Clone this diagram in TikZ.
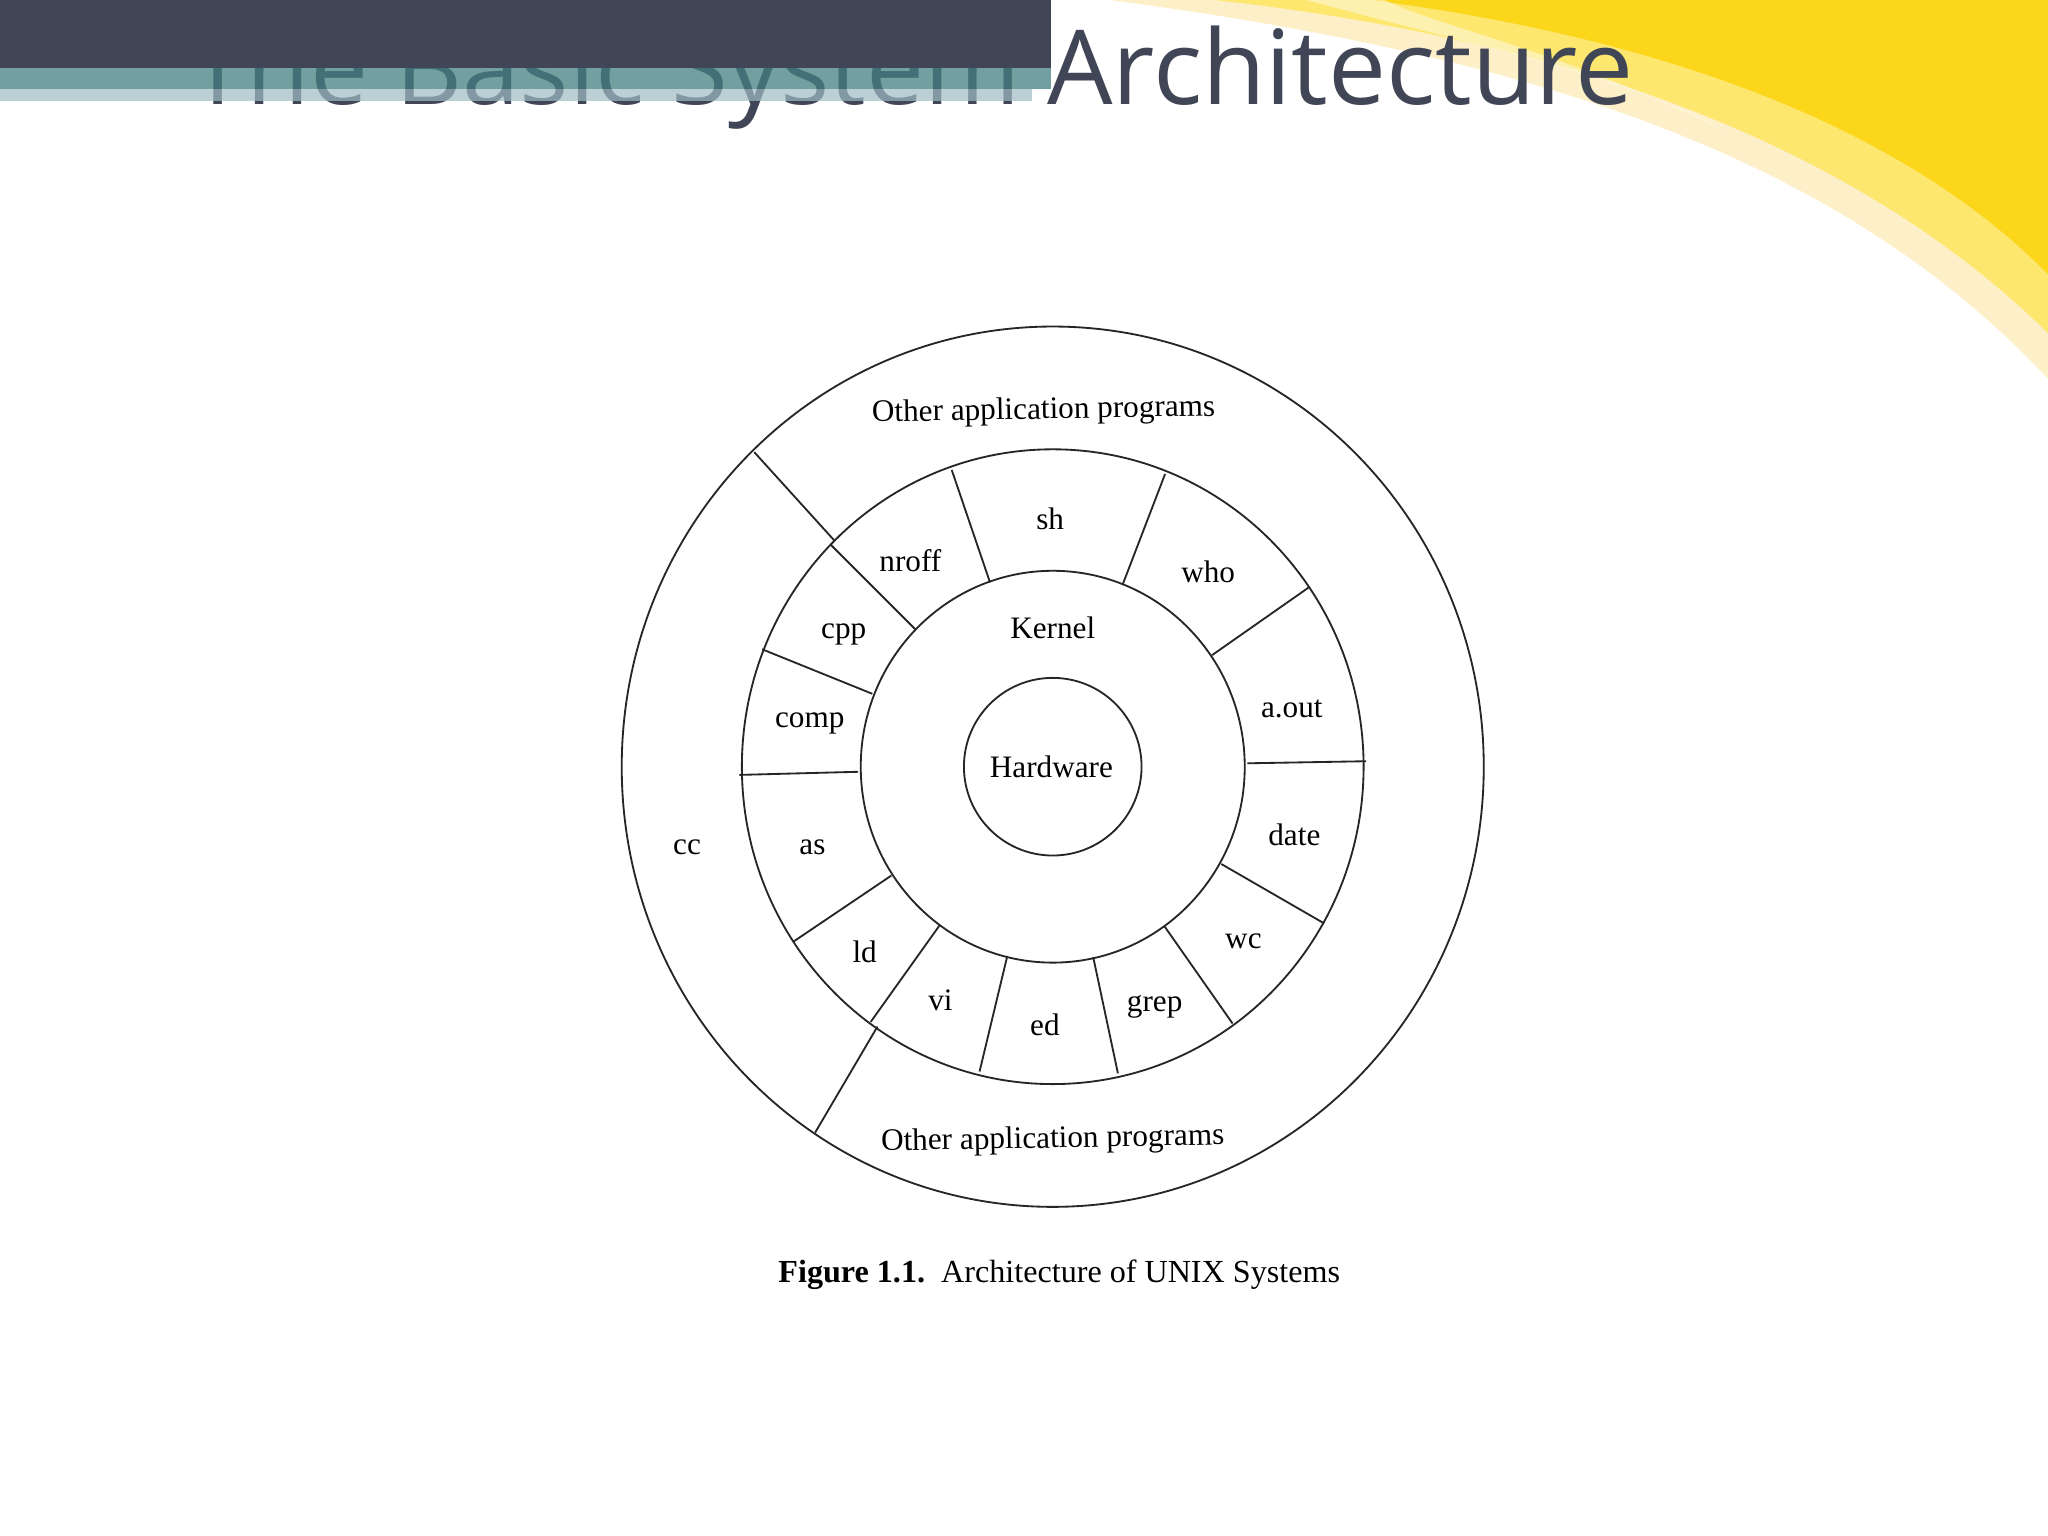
\documentclass[tikz,border=0pt]{standalone}
\usepackage{fontspec}
\setmainfont{Liberation Serif}
\newfontfamily\titlefont{Open Sans}
\begin{document}
\begin{tikzpicture}[x=0.05cm,y=-0.05cm,
  lbl/.style={font=\fontsize{34}{38}\selectfont, inner sep=0pt},
  ring/.style={line width=2pt, draw=black!85}]
\useasboundingbox (0,0) rectangle (1568,1176);
\fill[white] (0,0) rectangle (1568,1176);
% yellow swoosh
\begin{scope}
\clip (0,0) rectangle (1568,1176);
\fill[yellow!50!orange!60!white, opacity=0.35] (850,0) .. controls (1150,40) and (1400,110) .. (1568,290) -- (1568,0) -- cycle;
\fill[yellow!80!orange, opacity=0.45] (930,0) .. controls (1200,30) and (1420,110) .. (1568,255) -- (1568,0) -- cycle;
\fill[yellow!70!orange, opacity=0.8] (1050,0) .. controls (1280,30) and (1460,100) .. (1568,210) -- (1568,0) -- cycle;
\fill[white, opacity=0.45] (1000,0) .. controls (1150,40) and (1250,60) .. (1320,100) .. controls (1200,40) and (1100,20) .. (1060,0) -- cycle;
\end{scope}
% title
\node[anchor=base west, inner sep=0pt, text={rgb,255:red,65;green,70;blue,86}] (title) at (145,80)
  {\resizebox{55.25cm}{!}{\titlefont The Basic System Architecture}};
\fill[fill={rgb,255:red,65;green,70;blue,86}] (0,0) rectangle (805,52);
\fill[fill={rgb,255:red,69;green,127;blue,130}, opacity=0.75] (0,52) rectangle (805,68);
\fill[fill={rgb,255:red,159;green,188;blue,196}, opacity=0.7] (0,68) rectangle (790,77);
% diagram
\begin{scope}[shift={(806,587)}, yscale=-1]
  \draw[ring] (0,0) ellipse (330 and 337);
  \draw[ring] (0,0) ellipse (238 and 243);
  \draw[ring] (0,0) ellipse (147 and 150);
  \draw[ring] (0,0) circle (68);
  \foreach \a in {108.8,69,35,1,-30,-55,-78,-103.5,-125.5,-146,-178.5,158,135}
    \draw[ring] (\a:149) -- (\a:240);
  \draw[ring] (134:240) -- (133.5:332);
  \draw[ring] (-124:240) -- (-123:334);
\end{scope}
\node[lbl] (sh) at (804,397) {sh};
\node[lbl] (who) at (925,438) {who};
\node[lbl] (aout) at (989,543) {a.out};
\node[lbl] (date) at (991,639) {date};
\node[lbl] (wc) at (952,721) {wc};
\node[lbl] (grep) at (884,771) {grep};
\node[lbl] (ed) at (800,785) {ed};
\node[lbl] (vi) at (720,766) {vi};
\node[lbl] (ld) at (662,729) {ld};
\node[lbl] (as) at (622,649) {as};
\node[lbl] (comp) at (620,554) {comp};
\node[lbl] (cpp) at (646,486) {cpp};
\node[lbl] (nroff) at (697,429) {nroff};
\node[lbl] (kernel) at (806,481) {Kernel};
\node[lbl] (hw) at (805,587) {Hardware};
\node[lbl] (cc) at (526,649) {cc};
\node[lbl, rotate=1] (oapt) at (799,315) {Other application programs};
\node[lbl, rotate=1] (oapb) at (806,873) {Other application programs};
\node[lbl, font=\fontsize{35}{40}\selectfont] (cap) at (811,976) {\textbf{Figure 1.1.}\ \ Architecture of UNIX Systems};
\end{tikzpicture}
\end{document}
